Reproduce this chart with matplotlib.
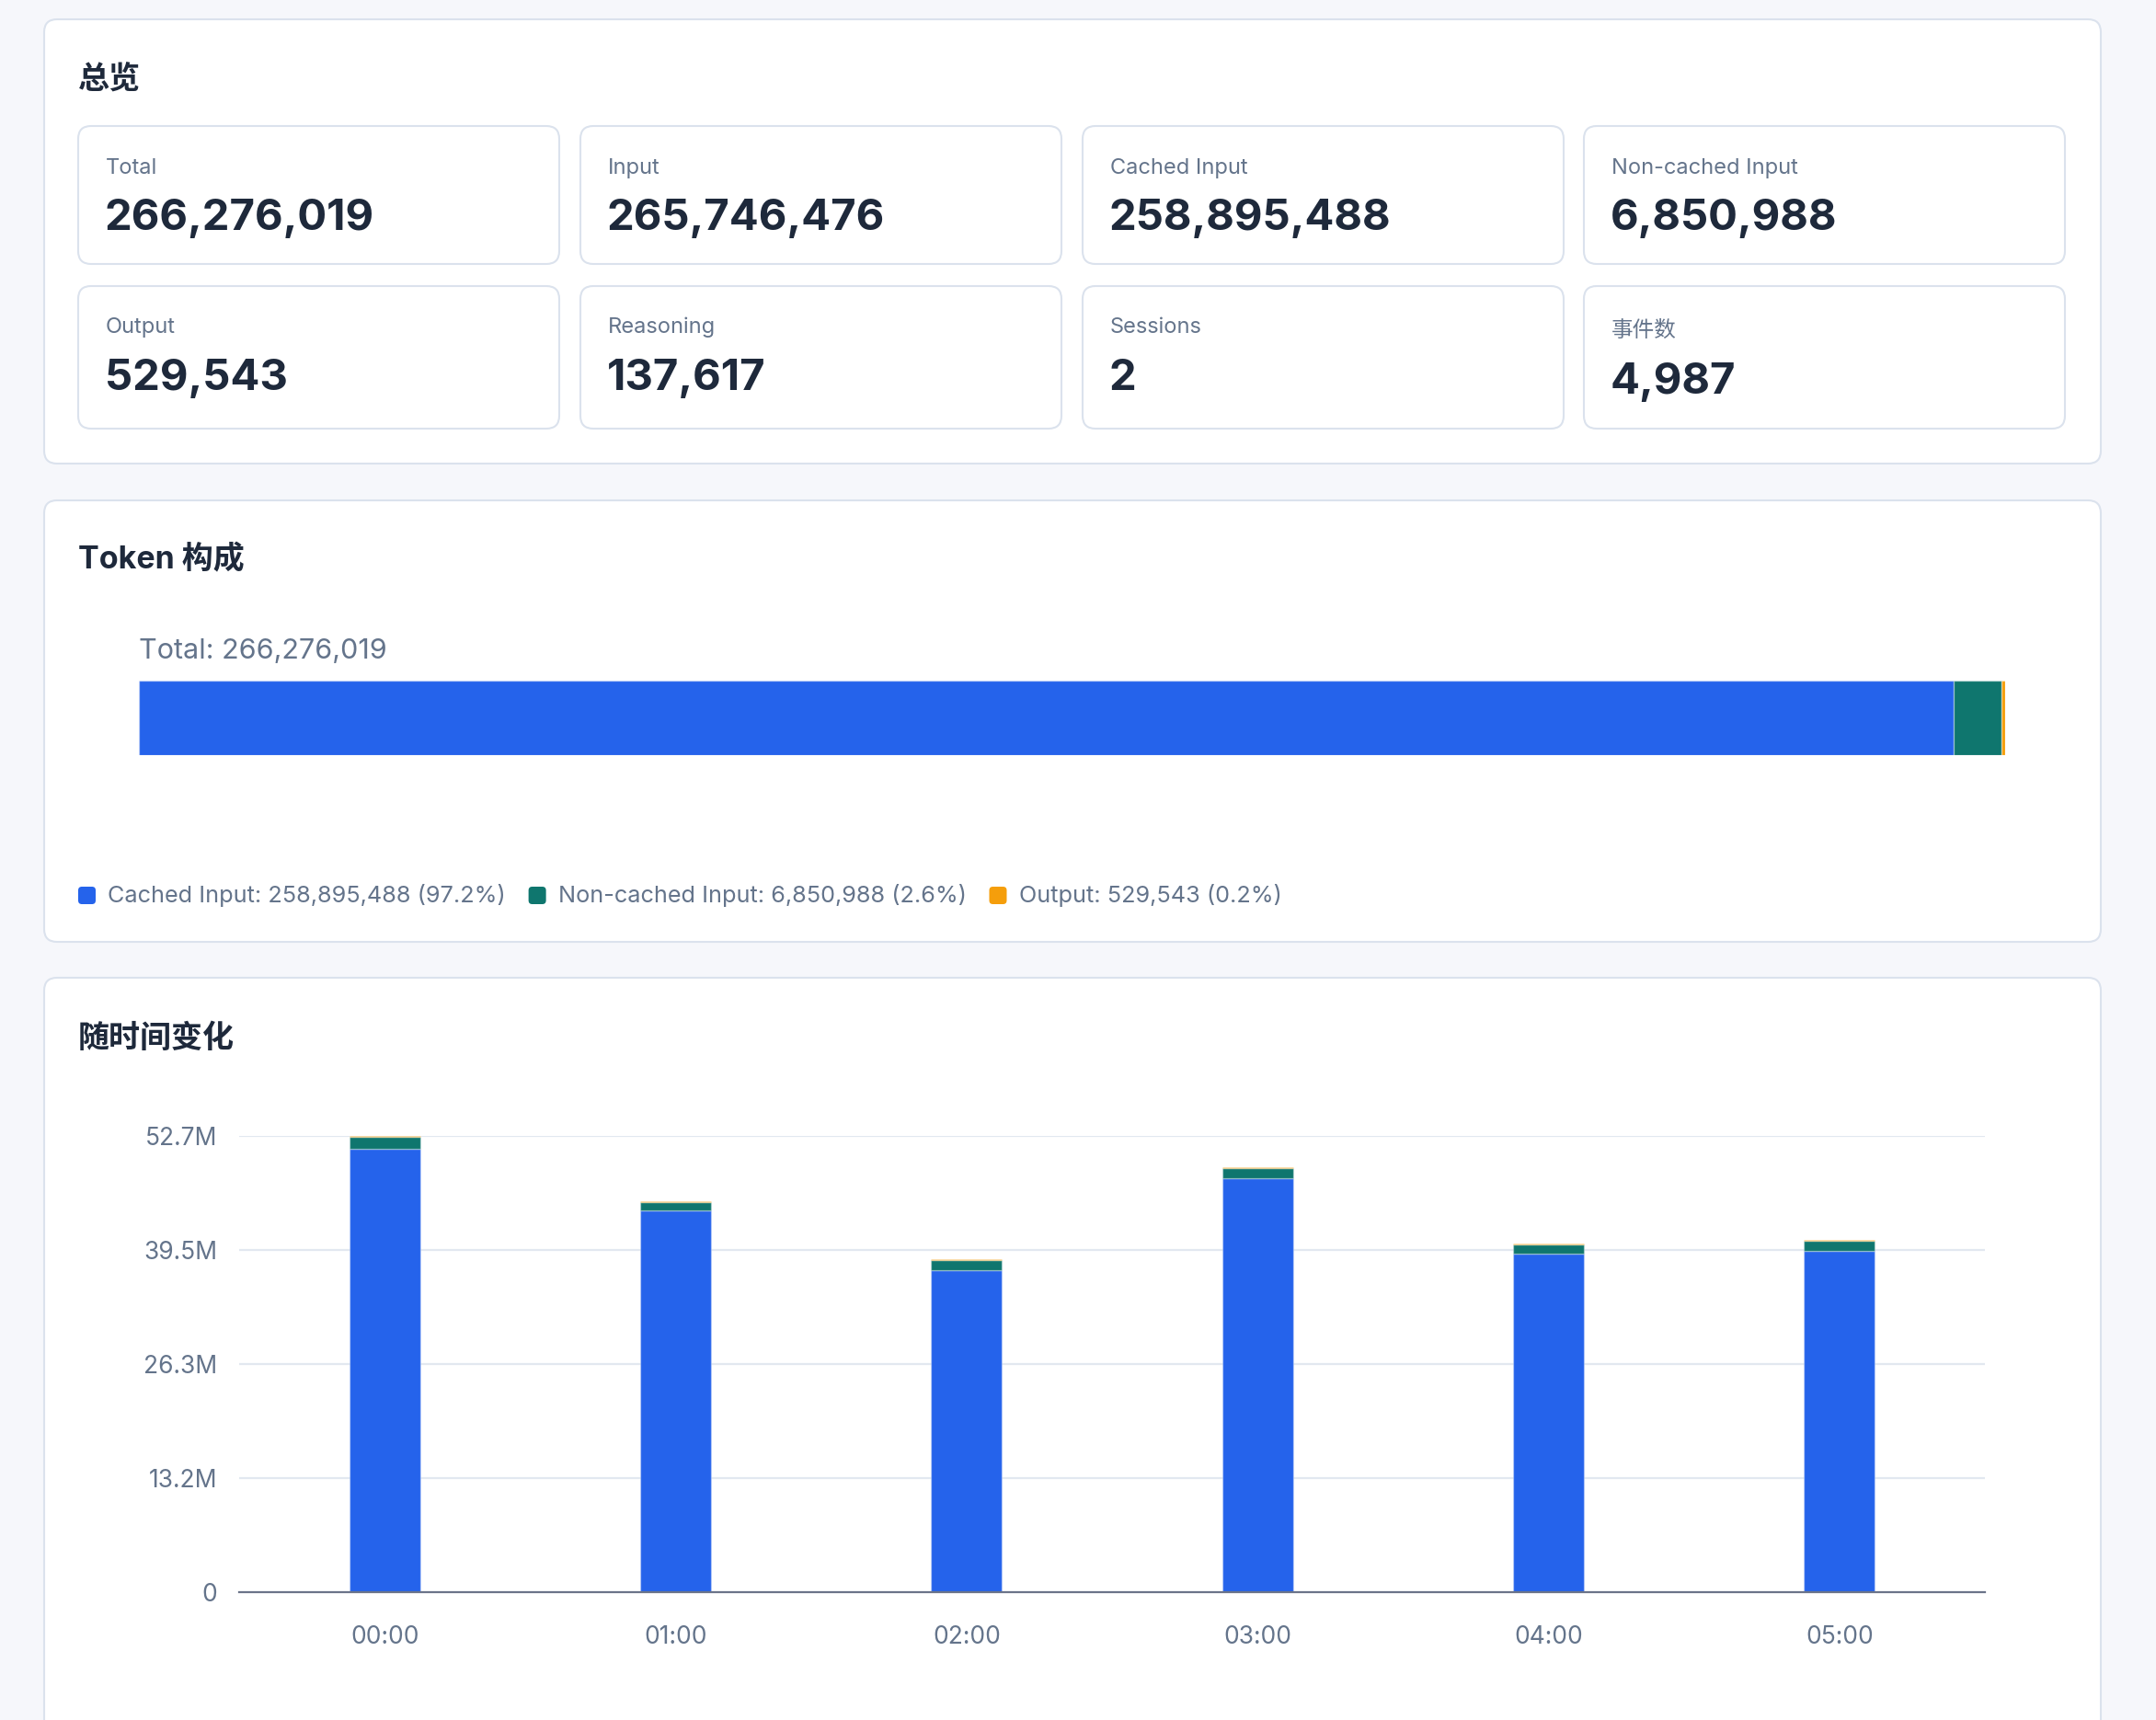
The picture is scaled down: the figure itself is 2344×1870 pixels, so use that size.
import numpy as np
import matplotlib
matplotlib.use('Agg')
import matplotlib.pyplot as plt
from matplotlib.patches import FancyBboxPatch

plt.rcParams['font.family'] = ['Inter', 'Noto Sans CJK SC', 'DejaVu Sans']

# summary cards
card_labels = ['Total', 'Input', 'Cached Input', 'Non-cached Input',
               'Output', 'Reasoning', 'Sessions', '事件数']
card_values = [266276019, 265746476, 258895488, 6850988,
               529543, 137617, 2, 4987]

# token mix
mix_labels = ['Cached Input', 'Non-cached Input', 'Output']
mix_values = [258895488, 6850988, 529543]
mix_total = 266276019

# hourly stacks (millions of tokens)
hours = ['00:00', '01:00', '02:00', '03:00', '04:00', '05:00']
cached = [51.22, 44.06, 37.22, 47.78, 39.07, 39.39]
noncached = [1.38, 0.97, 1.13, 1.16, 1.07, 1.15]
output = [0.08, 0.10, 0.09, 0.08, 0.09, 0.09]

BLUE = '#2563eb'
TEAL = '#0f766e'
ORANGE = '#f59e0b'
DARK = '#1e293b'
GRAY = '#64748b'
BORDER = '#dbe2ed'

W, H = 2344, 1870
fig = plt.figure(figsize=(W / 100, H / 100), dpi=100)
fig.patch.set_facecolor('#f6f7fb')

bg = fig.add_axes([0, 0, 1, 1])
bg.set_xlim(0, W)
bg.set_ylim(H, 0)
bg.axis('off')


def box(x, y, w, h, r, fc='white', ec=BORDER, lw=1.5):
    bg.add_patch(FancyBboxPatch((x, y), w, h, boxstyle='round,pad=0,rounding_size=%d' % r,
                                fc=fc, ec=ec, lw=lw))


# panels
box(48, 21, 2236, 483, 14)
box(48, 544, 2236, 480, 14)
box(48, 1063, 2236, 900, 14)

bg.text(85, 97, '总览', fontsize=24.5, fontweight='bold', color=DARK, va='baseline')
bg.text(85, 618, 'Token 构成', fontsize=24.5, fontweight='bold', color=DARK, va='baseline')
bg.text(85, 1139, '随时间变化', fontsize=24.5, fontweight='bold', color=DARK, va='baseline')

# cards
col_x = [85, 631, 1177, 1722]
row_y = [137, 311]
row_h = [150, 155]
lab_base = [189, 362]
val_base = [250, 424]
for i, (lab, val) in enumerate(zip(card_labels, card_values)):
    r, c = divmod(i, 4)
    box(col_x[c], row_y[r], 523, row_h[r], 14)
    dy = 4 if not lab.isascii() else 0
    bg.text(col_x[c] + 30, lab_base[r] + dy, lab, fontsize=17, color=GRAY, va='baseline')
    bg.text(col_x[c] + 29, val_base[r] + dy, f'{val:,}', fontsize=34, fontweight='bold',
            color=DARK, va='baseline')

# token mix bar
bg.text(151, 716, f'Total: {mix_total:,}', fontsize=22, color=GRAY, va='baseline')
ax2 = fig.add_axes([151 / W, 1 - 821 / H, 2029 / W, 81 / H])
left = 0
for v, col in zip(mix_values, [BLUE, TEAL, ORANGE]):
    ax2.barh(0, v, left=left, height=1, color=col, edgecolor=(1, 1, 1, 0.35), lw=1)
    left += v
ax2.set_xlim(0, mix_total)
ax2.set_ylim(-0.5, 0.5)
ax2.axis('off')

# legend
fig.canvas.draw()
rend = fig.canvas.get_renderer()
x = 85
for lab, v, col in zip(mix_labels, mix_values, [BLUE, TEAL, ORANGE]):
    bg.add_patch(FancyBboxPatch((x, 964), 19, 19, boxstyle='round,pad=0,rounding_size=4',
                                fc=col, ec='none'))
    t = bg.text(x + 32, 974, f'{lab}: {v:,} ({v / mix_total * 100:.1f}%)',
                fontsize=18.2, color=GRAY, va='center')
    x = x + 32 + t.get_window_extent(rend).width + 25

# hourly chart
ax = fig.add_axes([260 / W, 1 - 1731 / H, (2158 - 260) / W, (1731 - 1235) / H])
ax.patch.set_alpha(0)
pos = np.arange(len(hours))
c = np.array(cached)
n = np.array(noncached)
o = np.array(output)
ymax = (c + n + o).max()
ticks = np.linspace(0, ymax, 5)
for t in ticks[1:]:
    ax.axhline(t, color='#e2e8f0', lw=1.6, zorder=0)
bw = 0.244
ek = dict(edgecolor=(1, 1, 1, 0.3), lw=1)
ax.bar(pos, c, bw, color=BLUE, zorder=2, **ek)
ax.bar(pos, n, bw, bottom=c, color=TEAL, zorder=2, **ek)
ax.bar(pos, o, bw, bottom=c + n, color=ORANGE, zorder=2, **ek)
ax.set_xlim(-0.5, len(hours) - 0.5)
ax.set_ylim(0, ymax)
ax.set_yticks(ticks)
ax.set_yticklabels(['0'] + [f'{t:.1f}M' for t in ticks[1:]])
ax.set_xticks(pos)
ax.set_xticklabels(hours)
for s in ['top', 'right', 'left']:
    ax.spines[s].set_visible(False)
ax.spines['bottom'].set_color('#6b7489')
ax.spines['bottom'].set_linewidth(1.6)
ax.spines['bottom'].set_zorder(3)
ax.tick_params(axis='y', length=0, pad=17, labelsize=19, labelcolor=GRAY)
ax.tick_params(axis='x', length=0, pad=26, labelsize=19, labelcolor=GRAY)

fig.savefig('out.png', dpi=100, facecolor=fig.get_facecolor())
